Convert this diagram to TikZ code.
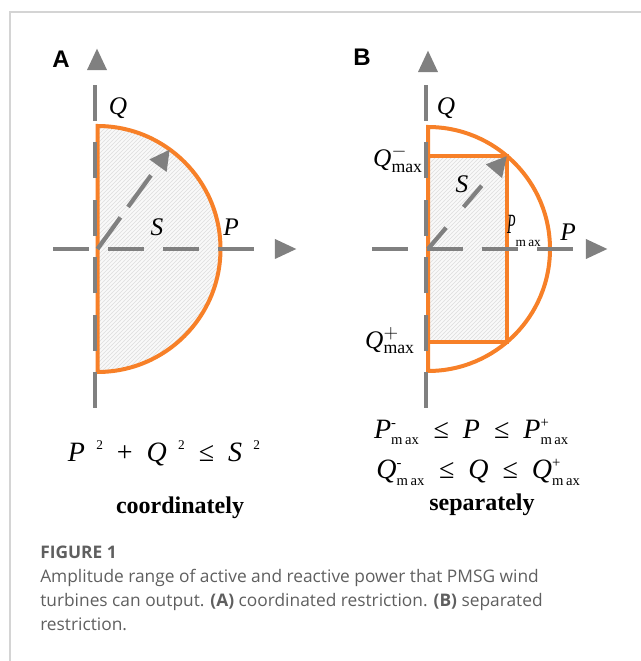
\documentclass[tikz,border=0pt]{standalone}
\usepackage{amsmath}
\usepackage{graphicx}
\usepackage{fontspec}
\setmainfont{Liberation Serif}
\newfontfamily\capfont{Open Sans}
\newfontfamily\panelfont{Liberation Sans}
\usetikzlibrary{arrows.meta,calc,patterns,shapes.geometric}

\definecolor{rimorange}{RGB}{247,128,40}
\definecolor{axisgray}{RGB}{128,128,128}
\definecolor{hatchgray}{RGB}{222,222,222}
\definecolor{capgray}{RGB}{95,95,95}
\definecolor{framegray}{RGB}{212,212,212}

% bound with stacked sign and "m ax"
\newcommand{\bnd}[2]{$\text{\itshape #1}^{\text{\upshape\fontsize{11}{11}\selectfont #2}}_{\text{\upshape\fontsize{11}{11}\selectfont m\,ax}}$}
\newcommand{\sqd}[1]{\textit{#1}\hspace{0.4em}\raisebox{0.42em}{\fontsize{10}{10}\selectfont\upshape 2}}

\begin{document}
\begin{tikzpicture}[
  x=0.75pt, y=0.75pt,
  haxis/.style={
    axisgray,
    line width=3.2pt,
    dash pattern=on 27pt off 14.25pt
  },
  vaxis/.style={
    axisgray,
    line width=3.2pt,
    dash pattern=on 27pt off 16.1pt
  },
  radius arrow/.style={
    axisgray,
    line width=3.2pt,
    -{Triangle[length=15pt,width=15pt]}
  },
  tipnode/.style={
    isosceles triangle,
    isosceles triangle stretches,
    fill=axisgray,
    inner sep=0pt,
    minimum width=15pt,
    minimum height=16pt
  },
  rim/.style={
    rimorange,
    line width=3pt
  },
  hatch/.style={
    fill=gray!5,
    postaction={pattern=north east lines, pattern color=hatchgray}
  },
  sym/.style={
    font=\fontsize{19}{19}\selectfont\itshape,
    inner sep=0pt
  },
  eqn/.style={
    font=\fontsize{21}{21}\selectfont,
    inner sep=0pt
  },
  word/.style={
    font=\fontsize{18}{18}\selectfont\bfseries,
    inner sep=0pt,
    anchor=base
  },
  panel/.style={
    font=\panelfont\fontsize{18}{18}\selectfont\bfseries,
    inner sep=0pt
  }
]
\useasboundingbox (0,0) rectangle (641,661);

% Frame
\draw[framegray, line width=1pt] (10,0) -- (10,649) -- (641,649);

% Panel A
\coordinate (Ao) at (97.5,412);
\coordinate (Atop) at (97.5,535);
\coordinate (As) at ($(Ao)+(54:123)$);
\fill[hatch] (Atop) arc[start angle=90, end angle=-90, radius=123] -- cycle;
\draw[rim] (Atop) arc[start angle=90, end angle=-90, radius=123] -- cycle;

\coordinate (Aq0) at (95,253);
\coordinate (Aq1) at (95,576);
\coordinate (Ap0) at (53,412);
\coordinate (Ap1) at (255,412);
\draw[vaxis] (Aq0) -- (Aq1);
\draw[haxis] (Ap0) -- (Ap1);
\node[tipnode, shape border rotate=90, anchor=apex] (Aqtip) at (97,613) {};
\node[tipnode, anchor=apex] (Aptip) at (297,412) {};
\draw[radius arrow, dash pattern=on 29.25pt off 9.75pt] (Ao) -- (As);

\node[panel] (Alab) at (61,602) {A};
\node[sym] (AQ) at (118,553) {Q};
\node[sym] (AS) at (157,434) {S};
\node[sym] (AP) at (231,434) {P};

% Panel B
\coordinate (Bo) at (428,412);
\coordinate (Btop) at (428,534);
\coordinate (Bc1) at ($(Bo)+(49.7:122)$);
\coordinate (Bc2) at ($(Bo)+(-49.7:122)$);
\fill[hatch] (Bo |- Bc1) rectangle (Bc2);
\draw[rim] (Btop) arc[start angle=90, end angle=-90, radius=122] -- cycle;
\draw[rim] (Bo |- Bc1) -- (Bc1) -- (Bc2) -- (Bo |- Bc2);

\coordinate (Bq0) at (426,253);
\coordinate (Bq1) at (426,579);
\coordinate (Bp0) at (372,412);
\coordinate (Bp1) at (575,412);
\draw[vaxis] (Bq0) -- (Bq1);
\draw[haxis] (Bp0) -- (Bp1);
\node[tipnode, shape border rotate=90, anchor=apex] (Bqtip) at (428,611) {};
\node[tipnode, anchor=apex] (Bptip) at (608,412) {};
\draw[radius arrow, dash pattern=on 21pt off 20.25pt] (Bo) -- (Bc1);

\node[panel] (Blab) at (362,604) {B};
\node[sym] (BQ) at (446,553) {Q};
\node[sym, anchor=east] (BQm) at (423,502) {$\text{Q}^{-}_{\textup{max}}$};
\node[sym, anchor=east] (BQp) at (415,320) {$\text{Q}^{+}_{\textup{max}}$};
\node[sym] (BS) at (462,477) {S};
\node[sym] (BPm) at (524,430)
  {\scalebox{0.55}[1.1]{P}\raisebox{-0.5em}{\fontsize{10}{10}\selectfont\upshape m\,ax}};
\node[sym] (BP) at (568,429) {P};

% Limits
\node[eqn] (Aeq) at (164,208)
  {\sqd{P}\enspace+\enspace\sqd{Q}\enspace≤\enspace\sqd{S}};
\node[word] (Aword) at (180,147) {coordinately};
\node[eqn] (Beq1) at (471.5,229)
  {\bnd{P}{-}\enspace≤\enspace\textit{P}\enspace≤\enspace\bnd{P}{+}};
\node[eqn] (Beq2) at (478.5,189)
  {\bnd{Q}{-}\enspace≤\enspace\textit{Q}\enspace≤\enspace\bnd{Q}{+}};
\node[word] (Bword) at (482,150) {separately};

% Caption
\node[anchor=north west, align=left, inner sep=0pt, capgray,
  font=\capfont\fontsize{13}{18}\selectfont] (cap) at (40,115)
  {{\bfseries FIGURE 1}\\
   Amplitude range of active and reactive power that PMSG wind\\
   turbines can output. {\bfseries (A)} coordinated restriction. {\bfseries (B)} separated\\
   restriction.};
\end{tikzpicture}
\end{document}
